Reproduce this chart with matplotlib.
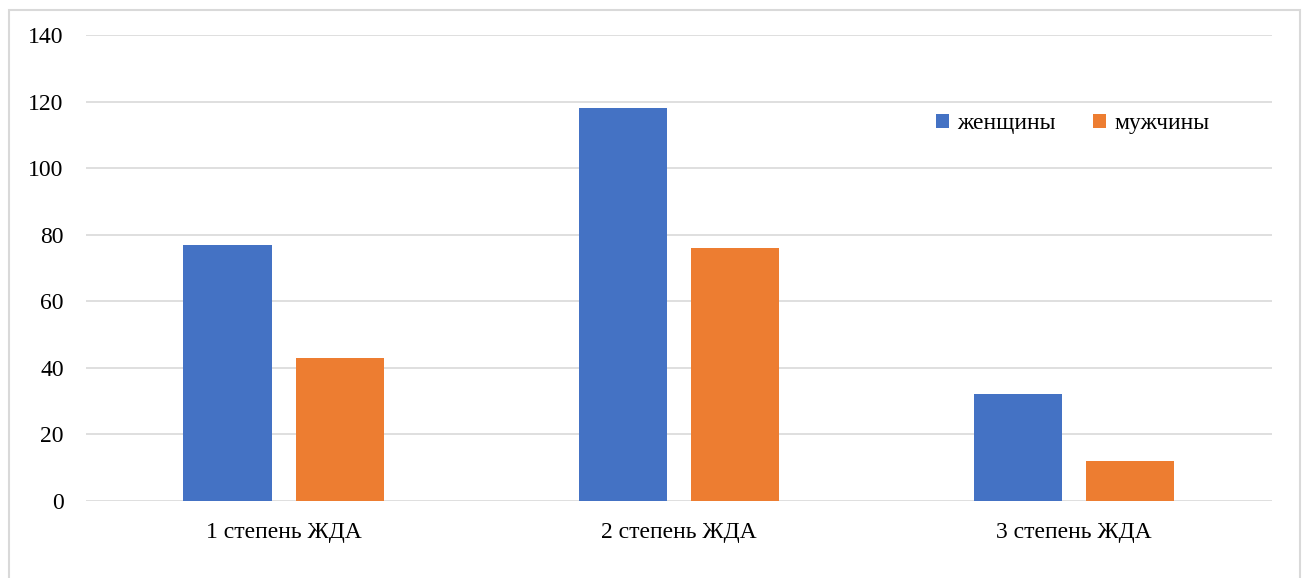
import numpy as np
import matplotlib.pyplot as plt
from matplotlib.patches import Rectangle

plt.rcParams["font.family"] = ["Liberation Serif", "DejaVu Serif"]

categories = ["1 степень ЖДА", "2 степень ЖДА", "3 степень ЖДА"]
women = [77, 118, 32]
men = [43, 76, 12]
series_names = ["женщины", "мужчины"]

fig = plt.figure(figsize=(13.03, 5.78), dpi=100)
ax = fig.add_axes([0.066, 0.1332, 0.910, 0.8062])

x = np.arange(len(categories))
w = 0.223
off = 0.142
ax.bar(x - off, women, w, color="#4472C4", label=series_names[0], zorder=3)
ax.bar(x + off, men, w, color="#ED7D31", label=series_names[1], zorder=3)

ax.set_xlim(-0.5, 2.5)
ax.set_ylim(0, 140)
ax.set_yticks(range(0, 141, 20))
ax.set_xticks(x)
ax.set_xticklabels(categories)
ax.yaxis.grid(True, color="#D9D9D9", lw=1.2, zorder=0)
for s in ax.spines.values():
    s.set_visible(False)
ax.tick_params(length=0, labelsize=17, colors="black")
ax.tick_params(axis="y", pad=16)
ax.tick_params(axis="x", pad=15)

ax.legend(loc="center", bbox_to_anchor=(0.832, 0.81), ncol=2, frameon=False,
          fontsize=17, handlelength=0.55, handleheight=0.55, handletextpad=0.35,
          columnspacing=1.6)

fig.patches.append(Rectangle((9 / 1303, -0.05), 1291 / 1303, 1 - 10 / 578 + 0.05,
                             transform=fig.transFigure, fill=False,
                             edgecolor="#D9D9D9", lw=1.5))

fig.savefig("out.png", dpi=100)
